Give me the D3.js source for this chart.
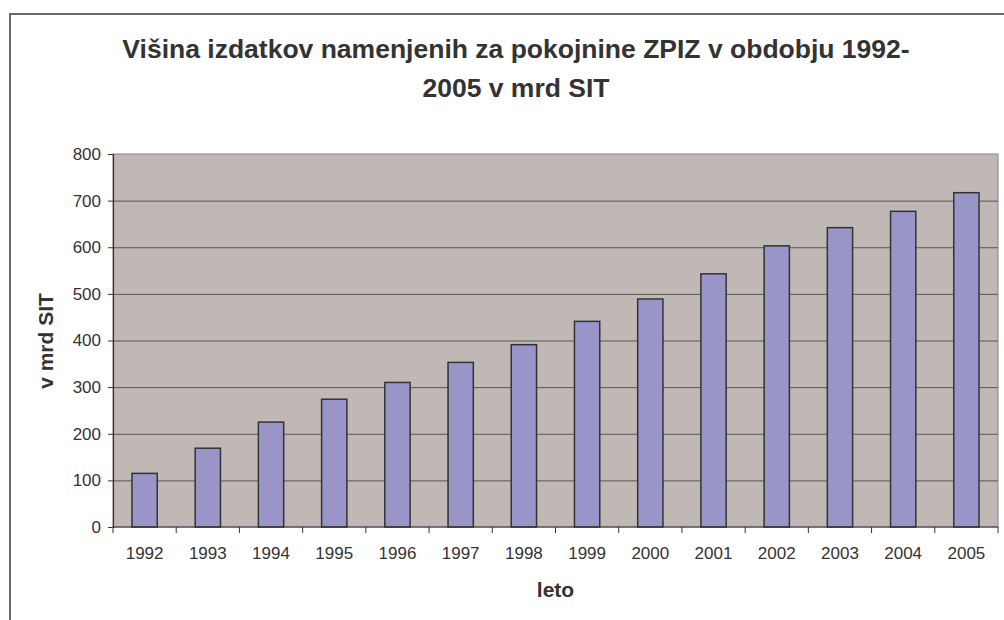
<!DOCTYPE html>
<html>
<head>
<meta charset="utf-8">
<script src="https://cdn.jsdelivr.net/npm/d3@7"></script>
<style>
  html, body { margin: 0; padding: 0; background: #fff; }
  svg { display: block; font-family: "Liberation Sans", Arial, sans-serif; }
</style>
</head>
<body>
<div id="chart"></div>
<script>
// Data
const years = ["1992", "1993", "1994", "1995", "1996", "1997", "1998",
  "1999", "2000", "2001", "2002", "2003", "2004", "2005"];
const expenses = [115, 169, 225, 274, 310, 353, 391, 441, 489, 543, 603, 642, 677, 717];
const yTicks = [0, 100, 200, 300, 400, 500, 600, 700, 800];
const titleLines = ["Višina izdatkov namenjenih za pokojnine ZPIZ v obdobju 1992-", "2005 v mrd SIT"];

const width = 1004;
const height = 620;
const margin = { top: 154, right: 6, bottom: 93, left: 113 };
const textColor = "#333333";

const svg = d3.select("#chart")
  .append("svg")
  .attr("width", width)
  .attr("height", height);

// outer chart frame (runs past the window on the right and bottom)
svg.append("rect")
  .attr("x", 10).attr("y", 14)
  .attr("width", width + 20).attr("height", height + 20)
  .attr("fill", "none")
  .attr("stroke", "#3a3a3a")
  .attr("stroke-width", 1.5);

const x = d3.scaleBand()
  .domain(years)
  .range([margin.left, width - margin.right])
  .paddingInner(0.6)
  .paddingOuter(0.3);

const y = d3.scaleLinear()
  .domain([0, 800])
  .range([height - margin.bottom, margin.top]);

const plotW = width - margin.right - margin.left;
const plotH = height - margin.bottom - margin.top;

// plot area
svg.append("rect")
  .attr("x", margin.left).attr("y", margin.top)
  .attr("width", plotW).attr("height", plotH)
  .attr("fill", "#c0b8b5")
  .attr("stroke", "#8c8482")
  .attr("stroke-width", 1);

// gridlines
svg.append("g")
  .selectAll("line")
  .data(yTicks.filter((d) => d > 0 && d < 800))
  .join("line")
  .attr("x1", margin.left).attr("x2", width - margin.right)
  .attr("y1", (d) => y(d) + 0.5).attr("y2", (d) => y(d) + 0.5)
  .attr("stroke", "#5a5555")
  .attr("stroke-width", 1);

// bars
svg.append("g")
  .selectAll("rect")
  .data(expenses)
  .join("rect")
  .attr("x", (d, i) => x(years[i]))
  .attr("y", (d) => y(d))
  .attr("width", x.bandwidth())
  .attr("height", (d) => y(0) - y(d))
  .attr("fill", "#9a95c9")
  .attr("stroke", "#333333")
  .attr("stroke-width", 1.5);

// y axis
const yAxis = d3.axisLeft(y).tickValues(yTicks).tickSize(5).tickPadding(7);
const gy = svg.append("g")
  .attr("transform", `translate(${margin.left},0)`)
  .call(yAxis);
gy.select(".domain").attr("stroke", "#333333").attr("stroke-width", 1.2);
gy.selectAll(".tick line").attr("stroke", "#333333");
gy.selectAll(".tick text")
  .attr("font-size", 17)
  .attr("fill", textColor)
  .attr("font-family", "Liberation Sans, Arial, sans-serif");

// x axis: ticks at category boundaries
const gx = svg.append("g")
  .attr("transform", `translate(0,${height - margin.bottom})`);
gx.append("line")
  .attr("x1", margin.left).attr("x2", width - margin.right)
  .attr("stroke", "#333333").attr("stroke-width", 1.2);
gx.selectAll("line.tick")
  .data(d3.range(years.length + 1))
  .join("line")
  .attr("class", "tick")
  .attr("x1", (i) => margin.left + i * plotW / years.length)
  .attr("x2", (i) => margin.left + i * plotW / years.length)
  .attr("y1", 0).attr("y2", 6)
  .attr("stroke", "#333333");
gx.selectAll("text")
  .data(years)
  .join("text")
  .attr("x", (d) => x(d) + x.bandwidth() / 2)
  .attr("y", 32)
  .attr("text-anchor", "middle")
  .attr("font-size", 17)
  .attr("fill", textColor)
  .text((d) => d);

// title
svg.append("g")
  .selectAll("text")
  .data(titleLines)
  .join("text")
  .attr("x", 516)
  .attr("y", (d, i) => 58 + i * 39)
  .attr("text-anchor", "middle")
  .attr("font-size", 26.5)
  .attr("font-weight", "bold")
  .attr("fill", textColor)
  .text((d) => d);

// axis titles
svg.append("text")
  .attr("transform", `translate(53,341) rotate(-90)`)
  .attr("text-anchor", "middle")
  .attr("font-size", 21)
  .attr("font-weight", "bold")
  .attr("fill", textColor)
  .text("v mrd SIT");

svg.append("text")
  .attr("x", (margin.left + width - margin.right) / 2)
  .attr("y", 597)
  .attr("text-anchor", "middle")
  .attr("font-size", 21)
  .attr("font-weight", "bold")
  .attr("fill", textColor)
  .text("leto");
</script>
</body>
</html>
